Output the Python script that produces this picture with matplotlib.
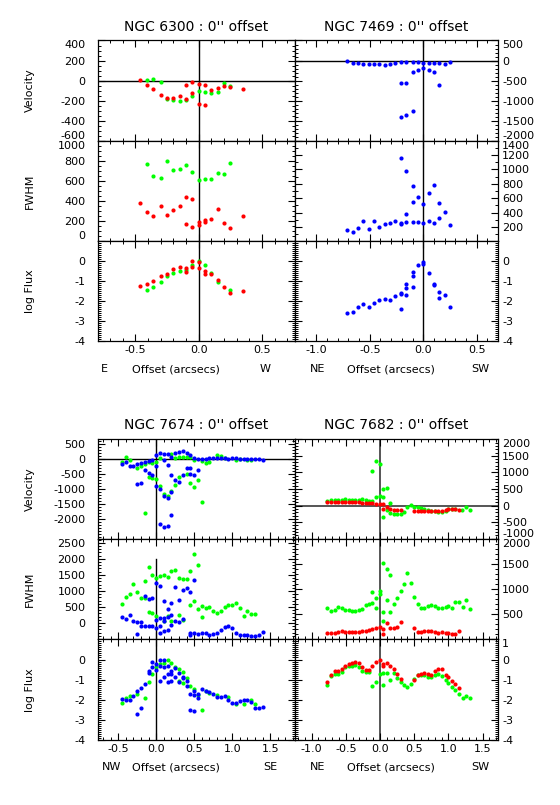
import matplotlib
matplotlib.use("Agg")
import matplotlib.pyplot as plt
from matplotlib.ticker import MultipleLocator, FormatStrFormatter

plt.rcParams['axes.unicode_minus'] = False
plt.rcParams['font.family'] = 'DejaVu Sans'

GREEN = '#00ff00'
RED = '#ff0000'
BLUE = '#0000ff'

# ---------------- NGC 6300 ----------------
n6300_vel_red_x = [-0.46, -0.41, -0.36, -0.30, -0.25, -0.20, -0.15, -0.10, -0.10, -0.05, -0.05, 0.00, 0.00, 0.05, 0.05, 0.10, 0.15, 0.20, 0.25, 0.35]
n6300_vel_red = [3, -40, -80, -140, -173, -173, -150, -180, -40, -127, -17, -30, -230, -47, -240, -90, -70, -57, -67, -83]
n6300_vel_grn_x = [-0.41, -0.36, -0.30, -0.25, -0.20, -0.15, -0.10, -0.05, 0.00, 0.05, 0.10, 0.15, 0.20, 0.25]
n6300_vel_grn = [10, 17, -10, -183, -197, -200, -197, -150, -107, -117, -123, -117, -27, -53]

n6300_fwhm_grn_x = [-0.41, -0.36, -0.30, -0.25, -0.20, -0.15, -0.10, -0.05, 0.00, 0.05, 0.10, 0.15, 0.20, 0.25]
n6300_fwhm_grn = [765, 652, 632, 798, 709, 719, 758, 689, 609, 616, 616, 679, 672, 778]
n6300_fwhm_red_x = [-0.46, -0.41, -0.36, -0.30, -0.25, -0.20, -0.15, -0.10, -0.10, -0.05, -0.05, 0.00, 0.00, 0.05, 0.05, 0.10, 0.15, 0.20, 0.25, 0.35]
n6300_fwhm_red = [381, 288, 251, 354, 265, 314, 348, 437, 172, 424, 139, 195, 162, 212, 189, 225, 318, 182, 129, 251]

n6300_flux_red_x = [-0.46, -0.41, -0.36, -0.30, -0.25, -0.20, -0.15, -0.10, -0.10, -0.05, -0.05, 0.00, 0.00, 0.05, 0.05, 0.10, 0.15, 0.20, 0.25, 0.35]
n6300_flux_red = [-1.24, -1.12, -1.0, -0.74, -0.62, -0.40, -0.30, -0.32, -0.52, 0.0, -0.30, -0.05, -0.35, -0.49, -0.65, -0.65, -0.92, -1.30, -1.60, -1.49]
n6300_flux_grn_x = [-0.41, -0.36, -0.30, -0.25, -0.20, -0.15, -0.10, -0.05, 0.00, 0.05, 0.10, 0.15, 0.25]
n6300_flux_grn = [-1.42, -1.27, -1.04, -0.75, -0.60, -0.50, -0.45, -0.19, 0.0, -0.17, -0.59, -1.05, -1.45]

# ---------------- NGC 7469 ----------------
n7469_vel_x = [-0.71, -0.66, -0.61, -0.56, -0.51, -0.46, -0.41, -0.36, -0.31, -0.26, -0.21, -0.21, -0.21, -0.16, -0.16, -0.16,
               -0.10, -0.10, -0.10, -0.05, -0.05, 0.0, 0.0, 0.05, 0.05, 0.10, 0.10, 0.15, 0.15, 0.20, 0.25]
n7469_vel = [0, -67, -67, -92, -92, -83, -83, -100, -75, -50, -42, -567, -1400, -42, -567, -1350,
             -42, -275, -1258, -42, -225, -50, -192, -58, -242, -58, -275, -67, -600, -92, -25]
n7469_fwhm_x = [-0.71, -0.66, -0.61, -0.56, -0.51, -0.46, -0.41, -0.36, -0.31, -0.26, -0.21, -0.21, -0.21, -0.16, -0.16, -0.16,
                -0.10, -0.10, -0.10, -0.05, -0.05, 0.0, 0.0, 0.05, 0.05, 0.10, 0.10, 0.15, 0.15, 0.20, 0.25]
n7469_fwhm = [162, 125, 185, 278, 167, 278, 204, 236, 259, 278, 259, 241, 1164, 269, 385, 983,
              269, 547, 770, 269, 612, 255, 519, 278, 677, 255, 784, 329, 533, 403, 227]
n7469_flux_x = [-0.71, -0.66, -0.61, -0.56, -0.51, -0.46, -0.41, -0.36, -0.31, -0.26, -0.21, -0.21, -0.21, -0.16, -0.16, -0.16,
                -0.10, -0.10, -0.10, -0.05, 0.0, 0.0, 0.05, 0.10, 0.10, 0.15, 0.15, 0.20, 0.25]
n7469_flux = [-2.59, -2.52, -2.29, -2.15, -2.27, -2.09, -1.95, -1.89, -1.92, -1.74, -1.57, -1.64, -2.37, -1.12, -1.34, -1.69,
              -0.54, -0.75, -1.29, -0.19, -0.05, -0.15, -0.59, -1.14, -1.20, -1.55, -1.85, -1.69, -2.27]

# ---------------- NGC 7674 ----------------
n7674_vel_blu_x = [-0.45, -0.40, -0.35, -0.30, -0.25, -0.25, -0.20, -0.20, -0.15, -0.15, -0.10, -0.10, -0.05, -0.05, 0, 0, 0,
                   0.05, 0.05, 0.05, 0.10, 0.10, 0.10, 0.10, 0.15, 0.15, 0.15, 0.15, 0.20, 0.20, 0.20, 0.20, 0.25, 0.25,
                   0.30, 0.30, 0.35, 0.35, 0.40, 0.40, 0.45, 0.45, 0.45, 0.50, 0.50, 0.55, 0.55, 0.60, 0.65, 0.70, 0.75,
                   0.80, 0.85, 0.90, 0.95, 1.00, 1.05, 1.10, 1.15, 1.20, 1.25, 1.30, 1.35, 1.40]
n7674_vel_blu = [-178, -111, -233, -233, -167, -844, -133, -822, -111, -378, -89, -489, -56, -556, 111, -256, -922,
                 189, -1022, -2178, 144, -33, -1244, -2267, 144, -222, -1300, -2256, 56, -556, -1111, -1878, 189, -700,
                 222, -778, 244, -556, 189, -300, 122, -300, -511, 33, -533, 0, -378, -22, -22, 11, 22,
                 33, 33, 33, -22, 11, 11, 0, -22, -11, -11, 0, -22, -56]
n7674_vel_grn_x = [-0.45, -0.40, -0.35, -0.25, -0.20, -0.15, -0.15, -0.10, -0.10, -0.05, -0.05, 0, 0, 0.05, 0.05, 0.10,
                   0.15, 0.20, 0.20, 0.25, 0.25, 0.30, 0.30, 0.35, 0.40, 0.40, 0.45, 0.45, 0.50, 0.50, 0.55, 0.60,
                   0.60, 0.65, 0.70, 0.80, 0.85, 0.90, 1.05, 1.10, 1.20, 1.25]
n7674_vel_grn = [-122, 44, -33, -311, -244, -1811, -178, -600, -111, -644, -133, -111, -667, 22, -922, -1167,
                 -1256, 144, -1078, 22, -867, -600, 56, 56, 44, -511, -800, 44, -44, -933, -711, -1456,
                 -89, -156, -100, 111, 89, 33, -33, -22, -44, -44]

n7674_fwhm_grn_x = [-0.45, -0.40, -0.35, -0.30, -0.25, -0.20, -0.15, -0.15, -0.10, -0.10, -0.05, -0.05, 0, 0, 0.05,
                    0.10, 0.10, 0.15, 0.15, 0.20, 0.20, 0.25, 0.30, 0.30, 0.35, 0.35, 0.40, 0.45, 0.45, 0.50, 0.50,
                    0.55, 0.55, 0.60, 0.60, 0.65, 0.70, 0.75, 0.80, 0.85, 0.90, 0.95, 1.00, 1.05, 1.10, 1.15, 1.20,
                    1.25, 1.30]
n7674_fwhm_grn = [593, 801, 906, 1218, 958, 770, 1312, 780, 1750, 332, 1510, 322, 1395, 218, 1468,
                  1499, 72, 1426, 228, 1614, 51, 1645, 1416, 260, 1374, 103, 1385, 1614, 551, 2156, 687,
                  1812, 426, 520, 176, 478, 489, 364, 301, 364, 489, 572, 572, 614, 457, 228, 374,
                  270, 291]
n7674_fwhm_blu_x = [-0.45, -0.40, -0.35, -0.30, -0.25, -0.25, -0.20, -0.20, -0.15, -0.15, -0.10, -0.10, -0.05, -0.05,
                    0, 0, 0, 0.05, 0.05, 0.05, 0.05, 0.10, 0.10, 0.10, 0.10, 0.15, 0.15, 0.15, 0.20, 0.20, 0.20,
                    0.25, 0.25, 0.30, 0.30, 0.35, 0.35, 0.40, 0.45, 0.45, 0.45, 0.50, 0.50, 0.55, 0.60, 0.65, 0.70,
                    0.75, 0.80, 0.85, 0.90, 0.95, 1.00, 1.05, 1.10, 1.15, 1.20, 1.25, 1.30, 1.35, 1.40]
n7674_fwhm_blu = [197, 134, 239, 72, 20, -345, -105, 20, 853, -105, 739, -105, 791, -84,
                  1249, 93, -168, 1166, 145, -84, -314, 676, 155, 51, -241, 426, 197, -209, 635, 249, -53,
                  1114, 51, 718, 20, 1020, 124, 1093, 958, -314, -366, 1333, -303, -334, -314, -324, -366,
                  -355, -314, -230, -116, -84, -168, -324, -366, -386, -386, -397, -407, -376, -272]

n7674_flux_blu_x = [-0.45, -0.40, -0.35, -0.30, -0.25, -0.25, -0.20, -0.20, -0.15, -0.10, -0.10, -0.05, -0.05, 0, 0,
                    0.05, 0.05, 0.05, 0.10, 0.10, 0.10, 0.15, 0.15, 0.15, 0.20, 0.20, 0.20, 0.25, 0.25, 0.30, 0.30,
                    0.35, 0.35, 0.40, 0.40, 0.45, 0.45, 0.50, 0.50, 0.50, 0.55, 0.55, 0.60, 0.65, 0.70, 0.75, 0.80,
                    0.85, 0.90, 0.95, 1.00, 1.05, 1.10, 1.15, 1.20, 1.25, 1.30, 1.35, 1.40]
n7674_flux_blu = [-1.94, -1.99, -2.02, -1.82, -2.71, -1.54, -2.40, -1.43, -1.23, -0.55, -0.68, -0.14, -0.35, -0.21, -0.50,
                  0.0, -0.34, -1.08, -0.01, -0.35, -0.85, -0.32, -0.73, -1.11, -0.57, -0.70, -1.08, -0.40, -0.88, -0.68, -1.11,
                  -0.85, -0.93, -1.08, -1.33, -1.71, -2.48, -1.58, -1.77, -2.53, -1.69, -1.89, -1.48, -1.54, -1.61, -1.71, -1.86,
                  -1.87, -1.82, -2.01, -2.15, -2.17, -2.05, -1.99, -1.99, -2.10, -2.42, -2.42, -2.34]
n7674_flux_grn_x = [-0.45, -0.40, -0.35, -0.25, -0.15, -0.10, -0.05, 0, 0.05, 0.10, 0.15, 0.20, 0.25, 0.30, 0.35,
                    0.30, 0.35, 0.40, 0.45, 0.50, 0.55, 0.60, 0.65, 0.70, 0.80, 0.95, 1.05, 1.15, 1.25, 1.30]
n7674_flux_grn = [-2.14, -1.92, -1.82, -1.69, -1.91, -1.13, -0.73, -0.35, -0.22, -0.19, 0.0, -0.16, -0.37, -0.49, -0.63,
                  -1.08, -1.18, -0.90, -1.31, -1.48, -1.74, -2.50, -1.58, -1.65, -1.77, -1.87, -2.22, -2.22, -2.02, -2.20]

# ---------------- NGC 7682 ----------------
n7682_red_x = [-0.77, -0.72, -0.66, -0.61, -0.56, -0.51, -0.46, -0.41, -0.36, -0.31, -0.26, -0.21, -0.16, -0.11, -0.06,
               0.0, 0.05, 0.05, 0.10, 0.15, 0.20, 0.25, 0.30, 0.50, 0.55, 0.60, 0.65, 0.70, 0.75, 0.80, 0.85, 0.90,
               0.96, 1.00, 1.05, 1.10, 1.16]
n7682_vel_red = [110, 110, 110, 120, 120, 120, 120, 120, 110, 100, 90, 80, 70, 70, 60,
                 60, 60, -110, -40, -90, -120, -120, -120, -170, -170, -170, -170, -170, -170, -170, -160, -150,
                 -120, -110, -110, -110, -130]
n7682_fwhm_red = [125, 125, 132, 139, 158, 152, 152, 152, 145, 152, 165, 165, 192, 205, 231,
                  251, 205, 112, 317, 231, 218, 251, 350, 218, 152, 139, 158, 165, 172, 145, 132, 145,
                  119, 132, 112, 105, 172]
n7682_flux_red = [-1.11, -0.78, -0.55, -0.55, -0.48, -0.32, -0.21, -0.16, -0.12, -0.17, -0.39, -0.54, -0.54, -0.31, -0.12,
                  -0.02, -0.24, -0.32, -0.17, -0.34, -0.45, -0.70, -0.95, -1.01, -0.78, -0.72, -0.67, -0.70, -0.75, -0.59,
                  -0.48, -0.48, -0.75, -0.85, -1.05, -1.23, -1.39]

n7682_vel_grn_x = [-0.77, -0.72, -0.66, -0.61, -0.56, -0.51, -0.46, -0.41, -0.36, -0.31, -0.26, -0.21, -0.16, -0.11,
                   -0.11, -0.06, -0.06, 0.0, 0.0, 0.05, 0.05, 0.05, 0.10, 0.10, 0.15, 0.15, 0.20, 0.25, 0.30, 0.35,
                   0.40, 0.45, 0.50, 0.55, 0.60, 0.65, 0.70, 0.75, 0.80, 0.85, 0.90, 0.96, 1.00, 1.05, 1.10,
                   1.20, 1.26, 1.31]
n7682_vel_grn = [140, 170, 160, 170, 170, 190, 180, 170, 170, 160, 190, 160, 150, 150,
                 1040, 1330, 260, 1240, 280, 500, 250, -330, 520, -130, 90, -230, -240, -250, -240, -190,
                 -30, 10, -30, -30, -80, -110, -130, -160, -170, -180, -200, -160, -110, -100, -100,
                 -130, -40, -130]
n7682_fwhm_grn_x = [-0.77, -0.72, -0.66, -0.61, -0.56, -0.51, -0.46, -0.41, -0.36, -0.31, -0.26, -0.21, -0.16, -0.11,
                    -0.11, -0.06, -0.06, 0.0, 0.0, 0.05, 0.05, 0.05, 0.10, 0.10, 0.15, 0.15, 0.20, 0.25, 0.30, 0.35,
                    0.40, 0.45, 0.50, 0.55, 0.60, 0.65, 0.70, 0.75, 0.80, 0.85, 0.90, 0.96, 1.00, 1.05, 1.10,
                    1.16, 1.21, 1.26, 1.31]
n7682_fwhm_grn = [622, 556, 589, 642, 629, 582, 589, 556, 556, 576, 609, 675, 695, 715,
                  934, 821, 629, 960, 901, 1523, 549, 370, 1391, 788, 1272, 543, 695, 814, 960, 1093,
                  1318, 1126, 841, 702, 616, 616, 662, 682, 656, 616, 622, 635, 668, 629, 735,
                  748, 635, 781, 609]
n7682_flux_grn_x = [-0.77, -0.72, -0.66, -0.61, -0.56, -0.51, -0.46, -0.41, -0.36, -0.31, -0.26, -0.21, -0.16, -0.11,
                    -0.06, 0.0, 0.05, 0.05, 0.10, 0.15, 0.20, 0.25, 0.30, 0.35, 0.40, 0.45, 0.50, 0.55, 0.60, 0.65,
                    0.70, 0.75, 0.80, 0.85, 0.90, 0.96, 1.00, 1.05, 1.10, 1.16, 1.21, 1.26, 1.31]
n7682_flux_grn = [-1.26, -0.83, -0.70, -0.72, -0.62, -0.39, -0.34, -0.31, -0.26, -0.36, -0.57, -0.63, -0.60, -1.31,
                  -1.13, -0.73, -1.28, -0.67, -0.69, -1.03, -0.69, -0.90, -1.11, -1.28, -1.36, -1.23, -0.97, -0.78,
                  -0.78, -0.75, -0.85, -0.85, -0.75, -0.72, -0.83, -1.03, -1.15, -1.38, -1.53, -1.72, -1.92, -1.82, -1.92]

titles = ["NGC 6300 : 0'' offset", "NGC 7469 : 0'' offset", "NGC 7674 : 0'' offset", "NGC 7682 : 0'' offset"]
directions = [("E", "W"), ("NE", "SW"), ("NW", "SE"), ("NE", "SW")]
ylabels = ["Velocity", "FWHM", "log Flux"]

W, H = 560, 805
fig = plt.figure(figsize=(5.6, 8.05), dpi=100)

cols = [(98, 295), (295, 498)]
rows_top = [40.5, 140.7, 241.3, 341.3]
rows_bot = [439.3, 538.7, 639.3, 740.3]
panels = []  # (axes, is_bottom_panel)


def panel(col, rows, i):
    l, r = cols[col]
    t, b = rows[i], rows[i + 1]
    return fig.add_axes([l / W, 1 - b / H, (r - l) / W, (b - t) / H])


def style(ax, xlim, ylim, yticks, ymin, right, bottom):
    ax.set_xlim(*xlim)
    ax.set_ylim(*ylim)
    ax.xaxis.set_major_locator(MultipleLocator(0.5))
    ax.xaxis.set_minor_locator(MultipleLocator(0.1))
    ax.xaxis.set_major_formatter(FormatStrFormatter('%.1f'))
    ax.set_yticks(sorted(yticks))
    ax.yaxis.set_major_formatter(FormatStrFormatter('%d'))
    ax.yaxis.set_minor_locator(MultipleLocator(ymin))
    ax.tick_params(which='both', direction='in', top=True, right=True, labelsize=8,
                   labelleft=not right, labelright=right, labelbottom=bottom)
    ax.tick_params(axis='x', pad=3)
    ax.tick_params(axis='y', pad=3 if right else 9)
    ax.tick_params(which='major', length=5, width=0.8)
    ax.tick_params(which='minor', length=2.5, width=0.7)
    for s in ax.spines.values():
        s.set_linewidth(0.9)
    panels.append((ax, bottom))


def dots(ax, x, y, c):
    ax.plot(x, y, 'o', color=c, ms=3, mec=c, mew=0, zorder=3)


def vline(ax, c='k', lw=1.0):
    ax.axvline(0, color=c, lw=lw, zorder=1)


def hline(ax, c='k', lw=1.0):
    ax.axhline(0, color=c, lw=lw, zorder=1)


# ---- NGC 6300 ----
xl = (-0.795, 0.76)
ax = panel(0, rows_top, 0)
dots(ax, n6300_vel_grn_x, n6300_vel_grn, GREEN)
dots(ax, n6300_vel_red_x, n6300_vel_red, RED)
vline(ax); hline(ax)
style(ax, xl, (-600, 400), [400, 200, 0, -200, -400, -600], 50, False, False)

ax = panel(0, rows_top, 1)
dots(ax, n6300_fwhm_grn_x, n6300_fwhm_grn, GREEN)
dots(ax, n6300_fwhm_red_x, n6300_fwhm_red, RED)
vline(ax)
style(ax, xl, (0, 1000), [0, 200, 400, 600, 800, 1000], 50, False, False)

ax = panel(0, rows_top, 2)
dots(ax, n6300_flux_grn_x, n6300_flux_grn, GREEN)
dots(ax, n6300_flux_red_x, n6300_flux_red, RED)
vline(ax)
style(ax, xl, (-4, 1), [0, -1, -2, -3, -4], 0.1, False, True)

# ---- NGC 7469 ----
xl = (-1.20, 0.70)
ax = panel(1, rows_top, 0)
dots(ax, n7469_vel_x, n7469_vel, BLUE)
vline(ax); hline(ax)
style(ax, xl, (-2000, 500), [500, 0, -500, -1000, -1500, -2000], 100, True, False)

ax = panel(1, rows_top, 1)
dots(ax, n7469_fwhm_x, n7469_fwhm, BLUE)
vline(ax)
style(ax, xl, (0, 1400), [200, 400, 600, 800, 1000, 1200, 1400], 100, True, False)

ax = panel(1, rows_top, 2)
dots(ax, n7469_flux_x, n7469_flux, BLUE)
vline(ax)
style(ax, xl, (-4, 1), [0, -1, -2, -3, -4], 0.1, True, True)

# ---- NGC 7674 ----
xl = (-0.767, 1.825)
ax = panel(0, rows_bot, 0)
dots(ax, n7674_vel_grn_x, n7674_vel_grn, GREEN)
dots(ax, n7674_vel_blu_x, n7674_vel_blu, BLUE)
vline(ax); hline(ax)
style(ax, xl, (-2667, 647), [500, 0, -500, -1000, -1500, -2000], 100, False, False)

ax = panel(0, rows_bot, 1)
dots(ax, n7674_fwhm_grn_x, n7674_fwhm_grn, GREEN)
dots(ax, n7674_fwhm_blu_x, n7674_fwhm_blu, BLUE)
ax.plot([0, 0], [-1000, 2000], color='k', lw=1.0, zorder=1)
style(ax, xl, (-510, 2630), [0, 500, 1000, 1500, 2000, 2500], 100, False, False)

ax = panel(0, rows_bot, 2)
dots(ax, n7674_flux_grn_x, n7674_flux_grn, GREEN)
dots(ax, n7674_flux_blu_x, n7674_flux_blu, BLUE)
vline(ax)
style(ax, xl, (-4, 1), [0, -1, -2, -3, -4], 0.1, False, True)

# ---- NGC 7682 ----
xl = (-1.243, 1.725)
gray = '#555555'
ax = panel(1, rows_bot, 0)
dots(ax, n7682_vel_grn_x, n7682_vel_grn, GREEN)
dots(ax, n7682_red_x, n7682_vel_red, RED)
vline(ax, gray, 1.4); hline(ax, gray, 1.4)
style(ax, xl, (-1000, 2000), [2000, 1500, 1000, 500, 0, -500, -1000], 100, True, False)

ax = panel(1, rows_bot, 1)
dots(ax, n7682_fwhm_grn_x, n7682_fwhm_grn, GREEN)
dots(ax, n7682_red_x, n7682_fwhm_red, RED)
vline(ax, gray, 1.4)
style(ax, xl, (0, 2000), [500, 1000, 1500, 2000], 100, True, False)

ax = panel(1, rows_bot, 2)
dots(ax, n7682_flux_grn_x, n7682_flux_grn, GREEN)
dots(ax, n7682_red_x, n7682_flux_red, RED)
vline(ax, gray, 1.4)
style(ax, xl, (-4, 1), [1, 0, -1, -2, -3, -4], 0.1, True, True)

# ---- y labels, titles and x-axis captions ----
for rows in (rows_top, rows_bot):
    for i, lab in enumerate(ylabels):
        yc = (rows[i] + rows[i + 1]) / 2
        fig.text(30 / W, 1 - yc / H, lab, rotation=90, ha='center', va='center', fontsize=8)

for k, (ty, cy) in enumerate([(27, 369), (27, 369), (425, 767), (425, 767)]):
    col = k % 2
    l, r = cols[col]
    fig.text((l + r) / 2 / W, 1 - ty / H, titles[k], ha='center', va='center', fontsize=10)
    left_lab, right_lab = directions[k]
    lx = [104, 318][col] if k != 2 else 112
    rx = [265, 480][col] if k != 2 else 270
    fig.text(lx / W, 1 - cy / H, left_lab, ha='center', va='center', fontsize=8)
    fig.text([176, 391][col] / W, 1 - cy / H, 'Offset (arcsecs)', ha='center', va='center', fontsize=8)
    fig.text(rx / W, 1 - cy / H, right_lab, ha='center', va='center', fontsize=8)

# keep labels at panel edges inside their panel so stacked panels do not collide
fig.canvas.draw()
for ax, bottom in panels:
    y0, y1 = ax.get_ylim()
    span = y1 - y0
    for tick in ax.yaxis.get_major_ticks():
        v = tick.get_loc()
        if abs(v - y1) < 0.02 * span:
            tick.label1.set_va('top')
            tick.label2.set_va('top')
        elif abs(v - y0) < 0.02 * span and not bottom:
            tick.label1.set_va('bottom')
            tick.label2.set_va('bottom')

fig.savefig('out.png', dpi=100)
